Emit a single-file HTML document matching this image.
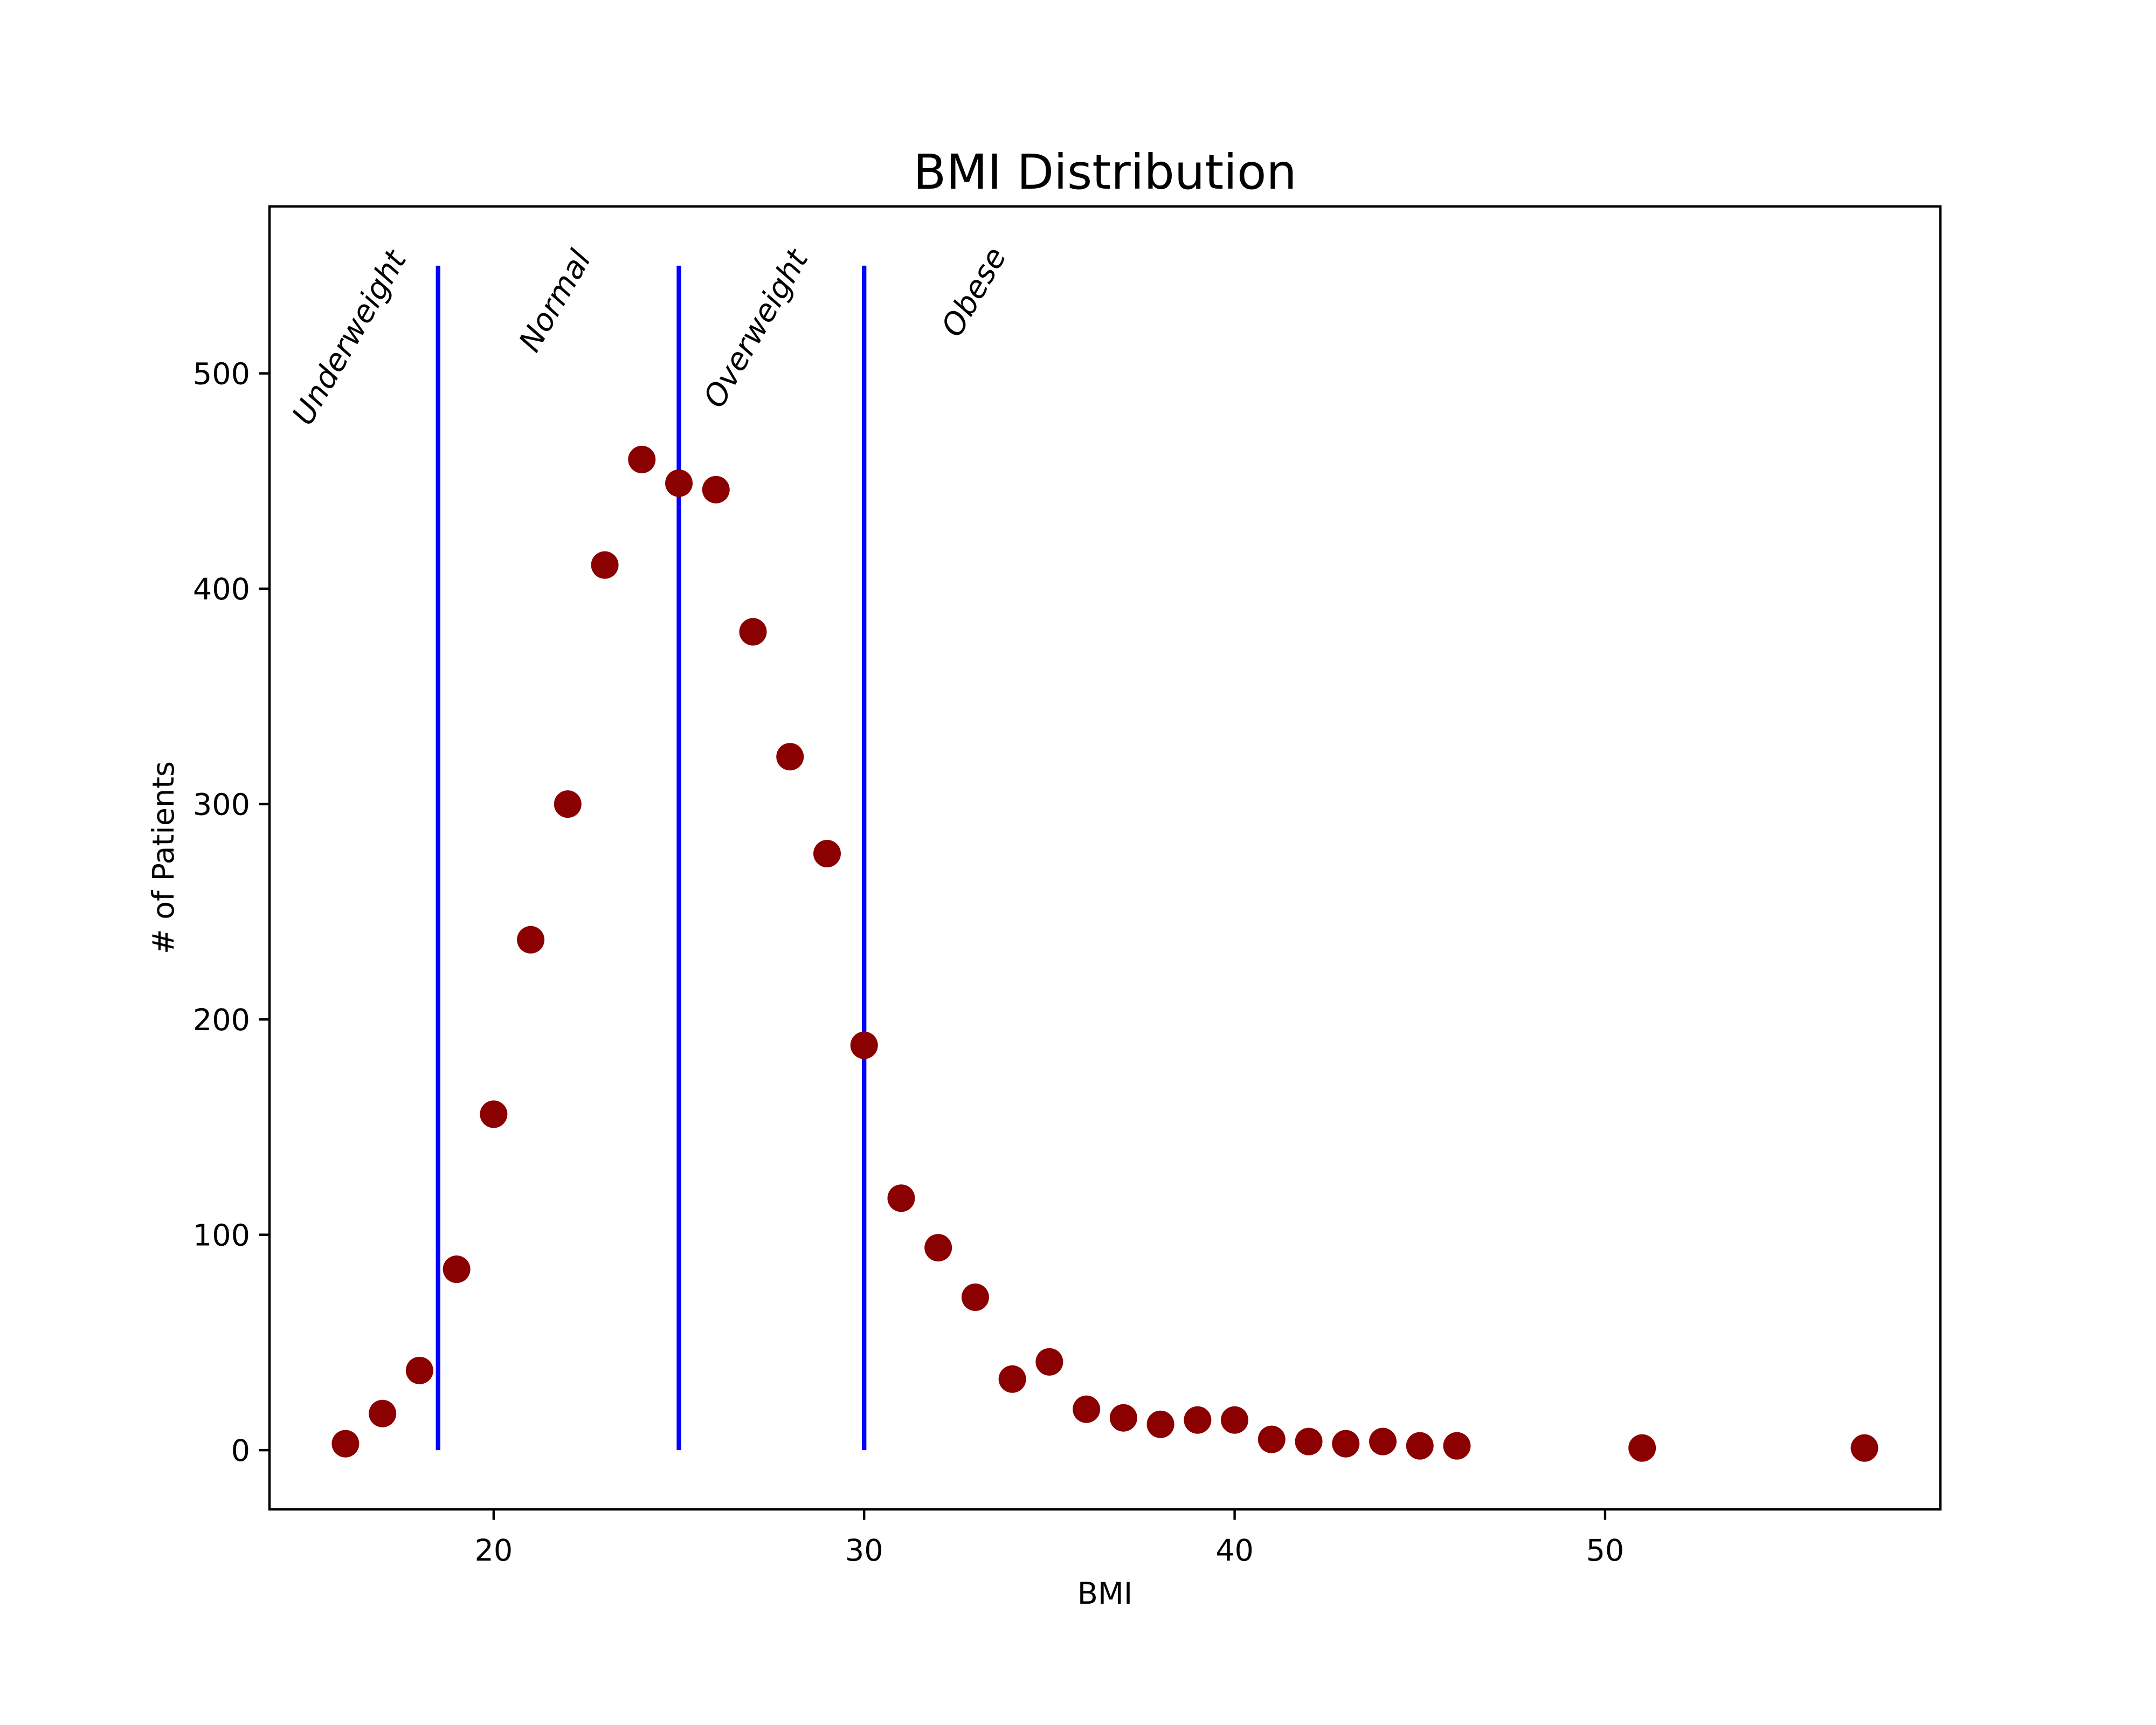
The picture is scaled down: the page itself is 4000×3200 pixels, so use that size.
<!DOCTYPE html>
<html>
<head>
<meta charset="utf-8">
<style>
  html, body { margin: 0; padding: 0; background: #ffffff; }
  svg { display: block; font-family: "DejaVu Sans", "Liberation Sans", sans-serif; }
</style>
</head>
<body>
<svg id="chart" xmlns="http://www.w3.org/2000/svg" width="4000" height="3200" viewBox="0 0 4000 3200">
  <rect x="0" y="0" width="4000" height="3200" fill="#ffffff"/>
  <text x="2050" y="350" font-size="89" text-anchor="middle" fill="#000">BMI Distribution</text>
  <g id="plot"></g>
  <rect x="500" y="383" width="3100" height="2417" fill="none" stroke="#000" stroke-width="4.4"/>
  <g id="xticks"></g>
  <g id="yticks"></g>
  <text x="2050" y="2975" font-size="55.6" text-anchor="middle" fill="#000">BMI</text>
  <text transform="translate(322,1591) rotate(-90)" font-size="55.6" text-anchor="middle" fill="#000"># of Patients</text>
</svg>
<script>
const bmiValues = [16,17,18,19,20,21,22,23,24,25,26,27,28,29,30,31,32,33,34,35,36,37,38,39,40,41,42,43,44,45,46,51,57];
const patientCounts = [3,17,37,84,156,237,300,411,460,449,446,380,322,277,188,117,94,71,33,41,19,15,12,14,14,5,4,3,4,2,2,1,1];
const xTickValues = [20,30,40,50];
const yTickValues = [0,100,200,300,400,500];
const cutoffValues = [18.5,25,30];
const cutoffTop = 550;
const categoryLabels = ["Underweight","Normal","Overweight","Obese"];
const categoryLabelX = [15.03,21.15,26.13,32.55];
const categoryLabelY = [475,509,483,516];

const NS = "http://www.w3.org/2000/svg";
const AX = {left:500, right:3600, top:383, bottom:2800};
const xMin = 13.95, xMax = 59.05, yMin = -27.5, yMax = 577.5;
function xScale(v){ return AX.left + (v - xMin) / (xMax - xMin) * (AX.right - AX.left); }
function yScale(v){ return AX.bottom - (v - yMin) / (yMax - yMin) * (AX.bottom - AX.top); }
function mk(tag, attrs){ const e = document.createElementNS(NS, tag); for (const k in attrs) e.setAttribute(k, attrs[k]); return e; }

const plot = document.getElementById('plot');

cutoffValues.forEach(function(c){
  const l = mk('line', {x1:xScale(c), x2:xScale(c), y1:yScale(0), y2:yScale(cutoffTop), stroke:'#0000ff', 'stroke-width':8.3});
  
  
  plot.appendChild(l);
});

bmiValues.forEach(function(b, i){
  const c = mk('circle', {cx:xScale(b), cy:yScale(patientCounts[i]), r:25.5, fill:'#8b0000'});
  
  
  plot.appendChild(c);
});

categoryLabels.forEach(function(t, i){
  const x = xScale(categoryLabelX[i]), y = yScale(categoryLabelY[i]);
  const tx = mk('text', {transform:'translate(' + x + ',' + y + ') rotate(-60)', 'font-size':56.5, fill:'#000', 'font-style':'italic'});
  tx.textContent = t;
  
  
  plot.appendChild(tx);
});

const xg = document.getElementById('xticks');
xTickValues.forEach(function(v){
  const x = xScale(v);
  const tk = mk('line', {x1:x, x2:x, y1:AX.bottom, y2:AX.bottom + 19.4, stroke:'#000', 'stroke-width':4.4});
  
  
  xg.appendChild(tk);
  const lb = mk('text', {x:x, y:2895, 'font-size':55.6, 'text-anchor':'middle', fill:'#000'});
  lb.textContent = String(v);
  
  
  xg.appendChild(lb);
});

const yg = document.getElementById('yticks');
yTickValues.forEach(function(v){
  const y = yScale(v);
  const tk = mk('line', {x1:AX.left - 19.4, x2:AX.left, y1:y, y2:y, stroke:'#000', 'stroke-width':4.4});
  
  
  yg.appendChild(tk);
  const lb = mk('text', {x:AX.left - 36, y:y + 20, 'font-size':55.6, 'text-anchor':'end', fill:'#000'});
  lb.textContent = String(v);
  
  
  yg.appendChild(lb);
});
</script>
</body>
</html>
